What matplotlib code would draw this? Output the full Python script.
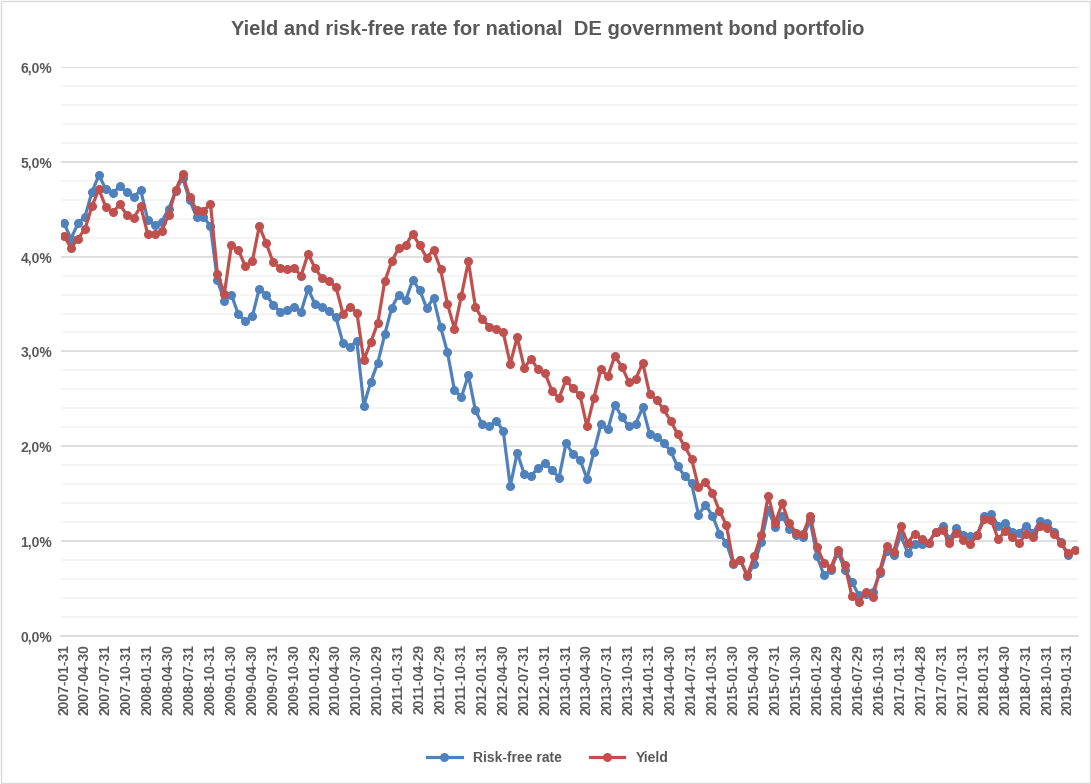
import numpy as np
import matplotlib.pyplot as plt
from matplotlib.ticker import MultipleLocator, FuncFormatter
from matplotlib.patches import Rectangle

# monthly values in %, starting 2007-01
risk_free = [4.35, 4.19, 4.35, 4.42, 4.68, 4.86, 4.71, 4.67, 4.74, 4.68, 4.63, 4.70,
             4.39, 4.33, 4.37, 4.50, 4.69, 4.83, 4.60, 4.42, 4.42, 4.32, 3.75, 3.53,
             3.60, 3.39, 3.32, 3.37, 3.66, 3.60, 3.49, 3.42, 3.44, 3.47, 3.42, 3.66,
             3.50, 3.47, 3.43, 3.36, 3.09, 3.05, 3.11, 2.43, 2.68, 2.88, 3.18, 3.46,
             3.60, 3.54, 3.75, 3.65, 3.46, 3.56, 3.26, 2.99, 2.59, 2.52, 2.75, 2.38,
             2.23, 2.21, 2.27, 2.16, 1.58, 1.93, 1.71, 1.69, 1.77, 1.82, 1.75, 1.67,
             2.03, 1.92, 1.86, 1.66, 1.94, 2.23, 2.18, 2.44, 2.31, 2.21, 2.24, 2.41,
             2.13, 2.10, 2.04, 1.95, 1.79, 1.69, 1.61, 1.28, 1.38, 1.27, 1.08, 0.98,
             0.76, 0.80, 0.63, 0.76, 0.99, 1.33, 1.15, 1.27, 1.13, 1.07, 1.04, 1.22,
             0.84, 0.64, 0.70, 0.88, 0.70, 0.57, 0.43, 0.44, 0.46, 0.66, 0.90, 0.85,
             1.06, 0.88, 0.97, 0.97, 0.98, 1.10, 1.16, 1.02, 1.14, 1.07, 1.05, 1.07,
             1.27, 1.29, 1.16, 1.19, 1.10, 1.09, 1.16, 1.09, 1.21, 1.19, 1.10, 0.99,
             0.85]

yield_ = [4.22, 4.09, 4.19, 4.29, 4.53, 4.71, 4.52, 4.47, 4.55, 4.44, 4.41, 4.53,
          4.24, 4.24, 4.27, 4.44, 4.70, 4.87, 4.63, 4.49, 4.48, 4.56, 3.82, 3.61,
          4.12, 4.07, 3.90, 3.95, 4.32, 4.14, 3.94, 3.88, 3.87, 3.88, 3.80, 4.03,
          3.88, 3.77, 3.74, 3.68, 3.40, 3.47, 3.41, 2.91, 3.10, 3.30, 3.74, 3.95,
          4.09, 4.12, 4.24, 4.12, 3.99, 4.07, 3.87, 3.50, 3.24, 3.59, 3.95, 3.47,
          3.34, 3.26, 3.24, 3.20, 2.87, 3.15, 2.83, 2.92, 2.81, 2.77, 2.58, 2.51,
          2.70, 2.61, 2.54, 2.21, 2.51, 2.81, 2.74, 2.95, 2.84, 2.68, 2.71, 2.88,
          2.55, 2.49, 2.39, 2.27, 2.13, 2.00, 1.87, 1.57, 1.62, 1.51, 1.32, 1.17,
          0.77, 0.80, 0.64, 0.84, 1.07, 1.48, 1.19, 1.40, 1.19, 1.09, 1.08, 1.27,
          0.94, 0.77, 0.72, 0.91, 0.75, 0.42, 0.36, 0.46, 0.41, 0.69, 0.95, 0.89,
          1.16, 0.98, 1.08, 1.02, 0.98, 1.10, 1.12, 0.98, 1.09, 1.01, 0.97, 1.07,
          1.23, 1.22, 1.02, 1.11, 1.04, 0.98, 1.08, 1.04, 1.16, 1.14, 1.08, 0.98,
          0.87, 0.91]

tick_labels = ['2007-01-31', '2007-04-30', '2007-07-31', '2007-10-31',
               '2008-01-31', '2008-04-30', '2008-07-31', '2008-10-31',
               '2009-01-30', '2009-04-30', '2009-07-31', '2009-10-30',
               '2010-01-29', '2010-04-30', '2010-07-30', '2010-10-29',
               '2011-01-31', '2011-04-29', '2011-07-29', '2011-10-31',
               '2012-01-31', '2012-04-30', '2012-07-31', '2012-10-31',
               '2013-01-31', '2013-04-30', '2013-07-31', '2013-10-31',
               '2014-01-31', '2014-04-30', '2014-07-31', '2014-10-31',
               '2015-01-30', '2015-04-30', '2015-07-31', '2015-10-30',
               '2016-01-29', '2016-04-29', '2016-07-29', '2016-10-31',
               '2017-01-31', '2017-04-28', '2017-07-31', '2017-10-31',
               '2018-01-31', '2018-04-30', '2018-07-31', '2018-10-31',
               '2019-01-31']

blue = '#4F81BD'
red = '#C0504D'
grey = '#595959'

plt.rcParams['font.family'] = ['Liberation Sans', 'DejaVu Sans']

fig = plt.figure(figsize=(10.91, 7.84), dpi=100)
ax = fig.add_axes([0.0555, 0.1888, 0.933, 0.7258])

ax.plot(np.arange(len(risk_free)), risk_free, '-o', color=blue, lw=2.3,
        ms=5.5, label='Risk-free rate', zorder=3)
ax.plot(np.arange(len(yield_)), yield_, '-o', color=red, lw=2.3,
        ms=5.5, label='Yield', zorder=4)

ax.set_xlim(-0.5, 145.5)
ax.set_ylim(0, 6)
ax.yaxis.set_major_locator(MultipleLocator(1))
ax.yaxis.set_minor_locator(MultipleLocator(0.2))
ax.yaxis.set_major_formatter(FuncFormatter(lambda v, p: ('%.1f%%' % v).replace('.', ',')))
ax.grid(True, which='major', axis='y', color='#d9d9d9', lw=1.2, zorder=0)
ax.grid(True, which='minor', axis='y', color='#f2f2f2', lw=1.2, zorder=0)

ax.set_xticks(np.arange(0, 145, 3))
ax.set_xticklabels(tick_labels, rotation=90, fontsize=10, fontweight='bold', color=grey)
for t in ax.get_yticklabels():
    t.set_fontsize(10)
    t.set_fontweight('bold')
    t.set_color(grey)
ax.tick_params(axis='both', length=0, pad=6)
ax.tick_params(axis='y', which='minor', length=0)

for s in ['top', 'right', 'left']:
    ax.spines[s].set_visible(False)
ax.spines['bottom'].set_color('#d9d9d9')
ax.spines['bottom'].set_linewidth(1.2)

fig.text(0.502, 0.962, 'Yield and risk-free rate for national  DE government bond portfolio',
         ha='center', va='center', fontsize=14.5, fontweight='bold', color=grey)

leg = fig.legend(loc='center', bbox_to_anchor=(0.502, 0.033), ncol=2, frameon=False,
                 prop={'size': 10, 'weight': 'bold'}, handlelength=2.5, columnspacing=2.0)
for t in leg.get_texts():
    t.set_color(grey)

fig.patches.append(Rectangle((0.001, 0.001), 0.998, 0.998, transform=fig.transFigure,
                             fill=False, edgecolor='#d9d9d9', lw=1))

fig.savefig('out.png', dpi=100)
